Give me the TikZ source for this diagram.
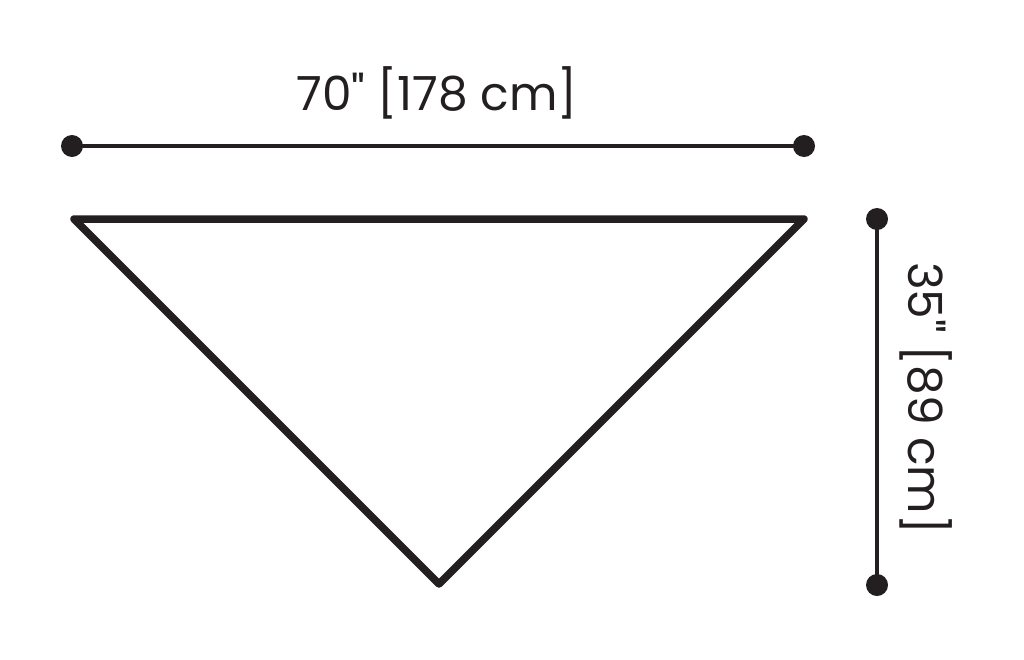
\documentclass[tikz,border=0pt]{standalone}
\usepackage{fontspec}
\setmainfont{Poppins}[Ligatures=TeXOff]
\definecolor{ink}{HTML}{231F20}
\begin{document}
\begin{tikzpicture}[x=1pt,y=-1pt,
  dot/.style={circle,fill=ink,inner sep=0pt,minimum size=22pt},
  dimline/.style={draw=ink,line width=4.5pt},
  shapeline/.style={draw=ink,line width=7.5pt,line join=round},
  dimtext/.style={text=ink,inner sep=0pt,font=\fontsize{47}{56}\selectfont}]
\useasboundingbox (0,0) rectangle (1024,659);
% top dimension
\node[dot] (t1) at (72,146) {};
\node[dot] (t2) at (804,146) {};
\draw[dimline] (t1.center) -- (t2.center);
\node[dimtext,anchor=base] (tl) at (437,110) {70" [178 cm]};
% triangle
\coordinate (v1) at (74,219);
\coordinate (v2) at (804,219);
\coordinate (v3) at (439,584);
\draw[shapeline] (v1) -- (v2) -- (v3) -- cycle;
% right dimension
\node[dot] (r1) at (877,219) {};
\node[dot] (r2) at (877,585) {};
\draw[dimline] (r1.center) -- (r2.center);
\node[dimtext,anchor=base,rotate=-90] (rl) at (908,398) {35" [89 cm]};
\end{tikzpicture}
\end{document}
